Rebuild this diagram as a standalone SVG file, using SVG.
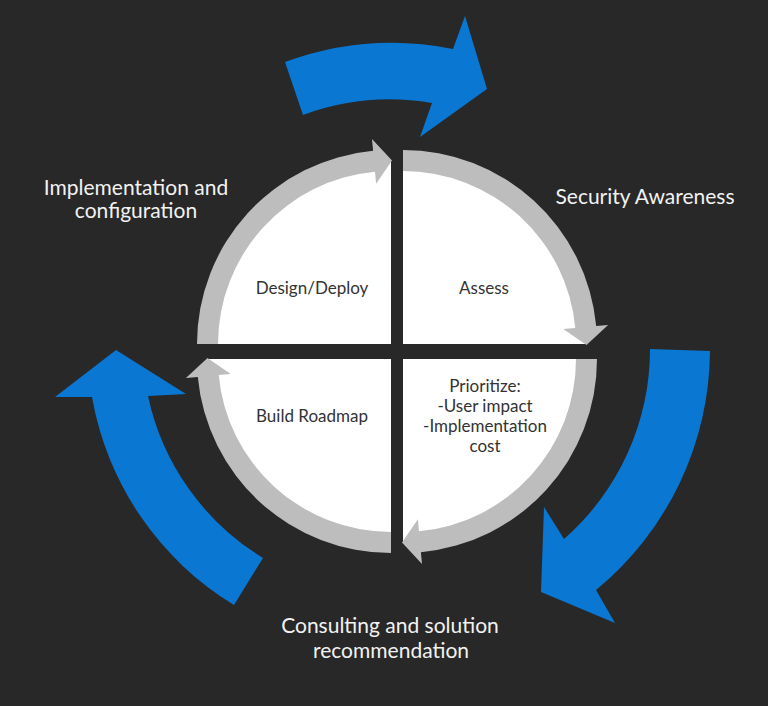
<svg xmlns="http://www.w3.org/2000/svg" width="768" height="706" viewBox="0 0 768 706">
<style>
.bg{fill:#282828}
.quad{fill:#ffffff}
.ring{fill:#bdbdbd}
.blue{fill:#0a77d3}
.outer{font-family:Lato,"Liberation Sans",sans-serif;font-size:21px;fill:#f2f2f2;text-anchor:middle}
.inner{font-family:Lato,"Liberation Sans",sans-serif;font-size:17px;fill:#333333;text-anchor:middle}
</style>
<defs>
<path id="wedge" d="M0,0 L-183,0 A183,183 0 0 1 0,-183 Z"/>
<path id="garrow" d="M-194,0 A194,194 0 0 1 -17.9,-193.2 L-19,-205.1 L1,-183.5 L-14.9,-160.3 L-16,-172.3 A173,173 0 0 0 -173,0 Z"/>
</defs>
<rect class="bg" x="0" y="0" width="768" height="706"/>
<g id="connectors">
<path class="blue" d="M285,62 A309,309 0 0 1 453,49 L465,16 L487,89 L420,137 L432,103 A251,251 0 0 0 303,115 Z"/>
<path class="blue" d="M710,351 A312,312 0 0 1 596,590 L615,623 L541,592 L544,507 L564,539 A252,252 0 0 0 650,349 Z"/>
<path class="blue" d="M234,605 A305,305 0 0 1 92,397 L55,397 L116,350 L186,394 L148,396 A251,251 0 0 0 263,558 Z"/>
</g>
<g id="design-deploy">
<use href="#wedge" class="quad" transform="translate(391,344)"/>
<use href="#garrow" class="ring" transform="translate(391,344)"/>
<text class="inner" x="312" y="294">Design/Deploy</text>
</g>
<g id="assess">
<use href="#wedge" class="quad" transform="translate(403,344) rotate(90)"/>
<use href="#garrow" class="ring" transform="translate(403,344) rotate(90)"/>
<text class="inner" x="484" y="294">Assess</text>
</g>
<g id="prioritize">
<use href="#wedge" class="quad" transform="translate(403,359) rotate(180)"/>
<use href="#garrow" class="ring" transform="translate(403,359) rotate(180)"/>
<text class="inner" x="485" y="392">Prioritize:</text>
<text class="inner" x="485" y="412">-User impact</text>
<text class="inner" x="485" y="432">-Implementation</text>
<text class="inner" x="485" y="452">cost</text>
</g>
<g id="build-roadmap">
<use href="#wedge" class="quad" transform="translate(391,359) rotate(270)"/>
<use href="#garrow" class="ring" transform="translate(391,359) rotate(270)"/>
<text class="inner" x="312" y="422">Build Roadmap</text>
</g>
<g id="label-security">
<text class="outer" x="645" y="204">Security Awareness</text>
</g>
<g id="label-implementation">
<text class="outer" x="136" y="195">Implementation and</text>
<text class="outer" x="136" y="218">configuration</text>
</g>
<g id="label-consulting">
<text class="outer" x="390" y="633">Consulting and solution</text>
<text class="outer" x="391" y="658">recommendation</text>
</g>
</svg>
